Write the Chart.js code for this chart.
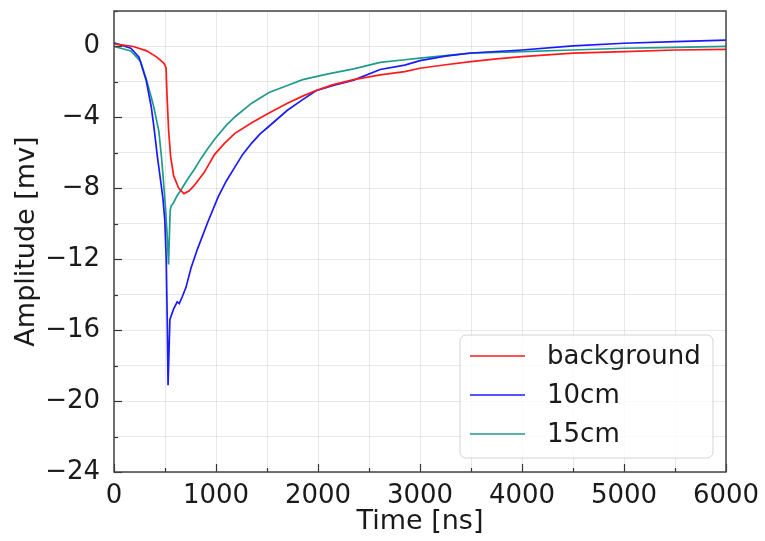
<!DOCTYPE html>
<html>
<head>
<meta charset="utf-8">
<script src="https://cdn.jsdelivr.net/npm/chart.js@4.4.1/dist/chart.umd.min.js"></script>
<style>
  html, body { margin: 0; padding: 0; background: #ffffff; }
  #wrap { width: 765px; height: 541px; }
</style>
</head>
<body>
<div id="wrap"><canvas id="c" width="765" height="541"></canvas></div>
<script>
// ---- data ----
const seriesNames = ["background", "10cm", "15cm"];

const timeBackground = [0, 190, 320, 420, 490, 510, 520, 535, 555, 585, 635, 685, 735, 785, 885, 985, 1085, 1185, 1350, 1520, 1700, 1850, 1980, 2150, 2350, 2610, 2850, 3000, 3250, 3500, 3750, 4000, 4500, 5000, 5500, 6000];
const ampBackground  = [0.15, 0.0, -0.25, -0.6, -0.95, -1.2, -2.8, -4.7, -6.2, -7.3, -8.0, -8.3, -8.15, -7.85, -7.1, -6.1, -5.45, -4.9, -4.3, -3.75, -3.2, -2.8, -2.48, -2.15, -1.87, -1.6, -1.42, -1.23, -1.03, -0.85, -0.7, -0.57, -0.38, -0.29, -0.2, -0.16];

const time10cm = [0, 165, 245, 315, 365, 395, 425, 460, 480, 498, 512, 522, 530, 548, 585, 620, 640, 670, 705, 755, 820, 920, 1020, 1100, 1180, 1260, 1350, 1430, 1520, 1700, 1850, 1980, 2150, 2350, 2610, 2850, 3000, 3250, 3500, 4000, 4500, 5000, 5500, 6000];
const amp10cm  = [0.2, -0.1, -0.6, -1.9, -3.4, -4.7, -6.2, -7.7, -8.6, -9.8, -12.0, -15.5, -19.1, -15.4, -14.8, -14.4, -14.5, -14.1, -13.6, -12.5, -11.4, -9.9, -8.5, -7.6, -6.85, -6.1, -5.45, -4.95, -4.5, -3.6, -3.0, -2.5, -2.2, -1.9, -1.3, -1.05, -0.8, -0.55, -0.37, -0.2, 0.03, 0.18, 0.27, 0.36];

const time15cm = [0, 165, 260, 320, 390, 440, 470, 490, 505, 520, 535, 550, 560, 585, 620, 650, 720, 785, 855, 920, 990, 1100, 1190, 1350, 1520, 1700, 1850, 2100, 2350, 2610, 2850, 3000, 3500, 4000, 4500, 5000, 5500, 6000];
const amp15cm  = [0.0, -0.25, -0.85, -1.9, -3.4, -4.8, -6.5, -8.0, -9.1, -10.5, -12.3, -9.3, -9.0, -8.8, -8.4, -8.15, -7.5, -6.95, -6.3, -5.75, -5.2, -4.45, -3.95, -3.2, -2.6, -2.2, -1.87, -1.55, -1.26, -0.9, -0.75, -0.66, -0.38, -0.29, -0.2, -0.1, -0.05, 0.0];

const xMajorLabels = [0, 1000, 2000, 3000, 4000, 5000, 6000];
const yMajorLabels = [0, -4, -8, -12, -16, -20, -24];

// ---- build chart ----
const colors = ["#ff1a1a", "#1a1aff", "#1f9a8c"];
function pts(t, a) { return t.map((v, i) => ({ x: v, y: a[i] })); }
const datasets = [
  { label: seriesNames[0], data: pts(timeBackground, ampBackground), borderColor: colors[0] },
  { label: seriesNames[1], data: pts(time10cm, amp10cm), borderColor: colors[1] },
  { label: seriesNames[2], data: pts(time15cm, amp15cm), borderColor: colors[2] }
].map(d => Object.assign(d, { borderWidth: 1.7, pointRadius: 0, tension: 0, fill: false }));

const FONT = "'DejaVu Sans', 'Liberation Sans', sans-serif";
const fmt = v => (v < 0 ? "\u2212" + Math.abs(v) : String(v));

const frameTicks = {
  id: "frameTicks",
  afterDraw(chart) {
    const { ctx, chartArea: a, scales } = chart;
    ctx.save();
    ctx.strokeStyle = "#333";
    ctx.lineWidth = 1.2;
    scales.x.ticks.forEach(t => {
      const px = Math.round(scales.x.getPixelForValue(t.value)) + 0.5;
      const len = xMajorLabels.includes(t.value) ? 8 : 4;
      ctx.beginPath(); ctx.moveTo(px, a.bottom); ctx.lineTo(px, a.bottom - len); ctx.stroke();
    });
    scales.y.ticks.forEach(t => {
      const py = Math.round(scales.y.getPixelForValue(t.value)) + 0.5;
      const len = yMajorLabels.includes(t.value) ? 8 : 4;
      ctx.beginPath(); ctx.moveTo(a.left, py); ctx.lineTo(a.left + len, py); ctx.stroke();
    });
    ctx.strokeStyle = "#444";
    ctx.lineWidth = 1.5;
    ctx.strokeRect(a.left, a.top, a.right - a.left, a.bottom - a.top);
    ctx.restore();
  }
};

const boxLegend = {
  id: "boxLegend",
  afterDatasetsDraw(chart) {
    const ctx = chart.ctx;
    const x0 = 460, y0 = 335, w = 253, h = 123, r = 6;
    ctx.save();
    ctx.beginPath();
    ctx.moveTo(x0 + r, y0);
    ctx.arcTo(x0 + w, y0, x0 + w, y0 + h, r);
    ctx.arcTo(x0 + w, y0 + h, x0, y0 + h, r);
    ctx.arcTo(x0, y0 + h, x0, y0, r);
    ctx.arcTo(x0, y0, x0 + w, y0, r);
    ctx.closePath();
    ctx.fillStyle = "rgba(255,255,255,0.8)";
    ctx.fill();
    ctx.strokeStyle = "rgba(200,200,200,0.8)";
    ctx.lineWidth = 1;
    ctx.stroke();
    const rows = [356, 395, 434];
    chart.data.datasets.forEach((d, i) => {
      ctx.strokeStyle = d.borderColor;
      ctx.lineWidth = 1.7;
      ctx.beginPath(); ctx.moveTo(470, rows[i]); ctx.lineTo(525, rows[i]); ctx.stroke();
      ctx.fillStyle = "#1a1a1a";
      ctx.font = "26px " + FONT;
      ctx.textBaseline = "middle";
      ctx.textAlign = "left";
      ctx.fillText(d.label, 547, rows[i] + 1);
    });
    ctx.restore();
  }
};

new Chart(document.getElementById("c"), {
  type: "line",
  data: { datasets },
  plugins: [boxLegend, frameTicks],
  options: {
    responsive: false,
    animation: false,
    devicePixelRatio: 1,
    layout: { padding: { top: 11, right: 39, left: 0, bottom: 0 } },
    plugins: { legend: { display: false }, tooltip: { enabled: false } },
    scales: {
      x: {
        type: "linear", min: 0, max: 6000,
        afterFit: s => { s.height = 69; s.paddingLeft = 0; s.paddingRight = 0; },
        border: { display: false },
        grid: { color: "rgba(0,0,0,0.09)", lineWidth: 1, drawTicks: false },
        ticks: {
          stepSize: 500, autoSkip: false, maxRotation: 0, padding: 9,
          color: "#1a1a1a", font: { family: FONT, size: 26 },
          callback: v => (xMajorLabels.includes(v) ? String(v) : "")
        },
        title: { display: true, text: "Time [ns]", color: "#1a1a1a", font: { family: FONT, size: 27 }, padding: { top: 0, bottom: 3 } }
      },
      y: {
        type: "linear", min: -24, max: 2,
        afterFit: s => { s.width = 114; s.paddingTop = 0; s.paddingBottom = 0; },
        border: { display: false },
        grid: { color: "rgba(0,0,0,0.09)", lineWidth: 1, drawTicks: false },
        ticks: {
          stepSize: 2, autoSkip: false, padding: 14,
          color: "#1a1a1a", font: { family: FONT, size: 26 },
          callback: v => (yMajorLabels.includes(v) ? fmt(v) : "")
        },
        title: { display: true, text: "Amplitude [mv]", color: "#1a1a1a", font: { family: FONT, size: 27 }, padding: { top: 11, bottom: 0 } }
      }
    }
  }
});
</script>
</body>
</html>
